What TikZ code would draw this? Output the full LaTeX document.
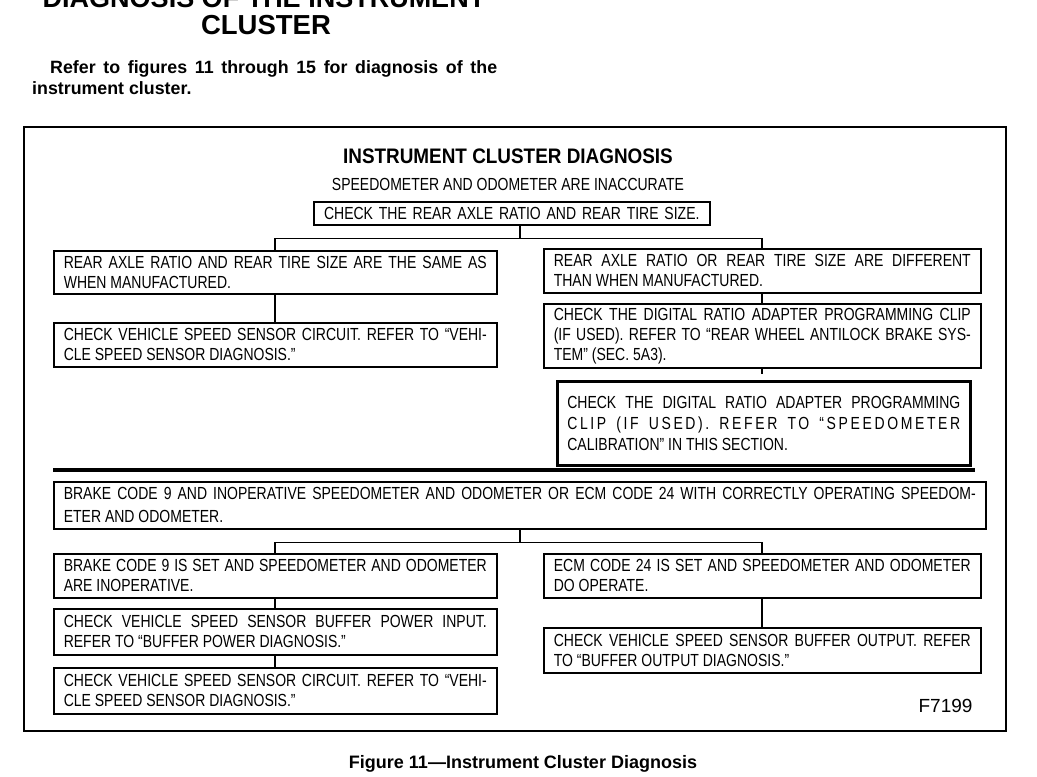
\documentclass[tikz,border=0pt]{standalone}
\usepackage{fontspec}
\setmainfont{Liberation Sans}
\newfontfamily\condfont{Liberation Sans}[FakeStretch=0.80]
\newfontfamily\headfont{Liberation Sans}[FakeStretch=0.9]

\begin{document}
\begin{tikzpicture}[x=1pt, y=-1pt, line join=miter,
	box/.style={draw, line width=1.6pt, anchor=north west, inner xsep=10pt, inner ysep=0pt, align=justify, font=\condfont\fontsize{17.5}{20}\selectfont},
	link/.style={line width=1.7pt}]
	\useasboundingbox (0,0) rectangle (1037,777);
	\node[anchor=base, font=\bfseries\fontsize{27}{30}\selectfont] (oldhead) at (264,7) {DIAGNOSIS OF THE INSTRUMENT};
	\node[anchor=base, font=\bfseries\fontsize{27.5}{30}\selectfont] (head) at (266,34) {CLUSTER};
	\node[anchor=north west, inner sep=0pt, text width=465pt, align=justify, font=\bfseries\fontsize{17.8}{21}\selectfont] (intro) at (32,60) {\hspace*{18pt}Refer to figures 11 through 15 for diagnosis of the\linebreak instrument cluster.};
	\draw[line width=1.5pt] (24,127) rectangle (1006,731);
	\node[anchor=base, font=\headfont\bfseries\fontsize{21}{24}\selectfont] (title) at (508,163) {INSTRUMENT CLUSTER DIAGNOSIS};
	\node[anchor=base, font=\condfont\fontsize{17.5}{20}\selectfont] (sub) at (508,190) {SPEEDOMETER AND ODOMETER ARE INACCURATE};
	\node[box, text width=376pt, align=center, minimum height=23pt] (chk) at (313,201) {CHECK THE REAR AXLE RATIO AND REAR TIRE SIZE.};
	\node[box, text width=423pt, minimum height=43pt] (a1) at (53,250) {REAR AXLE RATIO AND REAR TIRE SIZE ARE THE SAME AS\linebreak WHEN MANUFACTURED.};
	\node[box, text width=423pt, minimum height=44pt] (a2) at (53,322) {CHECK VEHICLE SPEED SENSOR CIRCUIT. REFER TO “VEHI-\linebreak CLE SPEED SENSOR DIAGNOSIS.”};
	\node[box, text width=417pt, minimum height=44pt] (b1) at (543,248) {REAR AXLE RATIO OR REAR TIRE SIZE ARE DIFFERENT\linebreak THAN WHEN MANUFACTURED.};
	\node[box, text width=417pt, minimum height=64pt] (b2) at (543,303) {CHECK THE DIGITAL RATIO ADAPTER PROGRAMMING CLIP\linebreak (IF USED). REFER TO “REAR WHEEL ANTILOCK BRAKE SYS-\linebreak TEM” (SEC. 5A3).};
	\node[box, line width=2.6pt, text width=393pt, minimum height=84pt, font=\condfont\fontsize{17.5}{21}\selectfont] (b3) at (556,380) {CHECK THE DIGITAL RATIO ADAPTER PROGRAMMING\linebreak {\addfontfeature{LetterSpace=15}CLIP (IF USED). REFER TO “SPEEDOMETER}\linebreak CALIBRATION” IN THIS SECTION.};
	\draw[line width=4pt] (53,470) -- (975,470);
	\node[box, text width=912pt, minimum height=47pt, font=\condfont\fontsize{17.5}{23}\selectfont] (c1) at (53,481) {BRAKE CODE 9 AND INOPERATIVE SPEEDOMETER AND ODOMETER OR ECM CODE 24 WITH CORRECTLY OPERATING SPEEDOM-\linebreak ETER AND ODOMETER.};
	\node[box, text width=423pt, minimum height=44pt] (c2l) at (53,553) {BRAKE CODE 9 IS SET AND SPEEDOMETER AND ODOMETER\linebreak ARE INOPERATIVE.};
	\node[box, text width=417pt, minimum height=44pt] (c2r) at (543,553) {ECM CODE 24 IS SET AND SPEEDOMETER AND ODOMETER\linebreak DO OPERATE.};
	\node[box, text width=423pt, minimum height=46pt] (c3l) at (53,608) {CHECK VEHICLE SPEED SENSOR BUFFER POWER INPUT.\linebreak REFER TO “BUFFER POWER DIAGNOSIS.”};
	\node[box, text width=423pt, minimum height=46pt] (c4l) at (53,667) {CHECK VEHICLE SPEED SENSOR CIRCUIT. REFER TO “VEHI-\linebreak CLE SPEED SENSOR DIAGNOSIS.”};
	\node[box, text width=417pt, minimum height=45pt] (c3r) at (543,627) {CHECK VEHICLE SPEED SENSOR BUFFER OUTPUT. REFER\linebreak TO “BUFFER OUTPUT DIAGNOSIS.”};
	\node[anchor=base east, font=\fontsize{19}{22}\selectfont] (fig) at (976,712) {F7199};
	\node[anchor=base, font=\bfseries\fontsize{18}{21}\selectfont] (caption) at (523,768) {Figure 11—Instrument Cluster Diagnosis};
	\draw[link] (chk.south -| c1.north) -- ++(0,13) coordinate (j1);
	\draw[link] (a1.north) |- (j1) -| (b1.north);
	\draw[link] (a1.south) -- (a2.north);
	\draw[link] (b1.south) -- (b2.north);
	\draw[link] (b2.south) -- ++(0,5) coordinate (b2stub);
	\draw[link] (c1.south) -- ++(0,13) coordinate (j2);
	\draw[link] (c2l.north) |- (j2) -| (c2r.north);
	\draw[link] (c2l.south) -- (c3l.north);
	\draw[link] (c3l.south) -- (c4l.north);
	\draw[link] (c2r.south) -- (c3r.north);
\end{tikzpicture}
\end{document}
